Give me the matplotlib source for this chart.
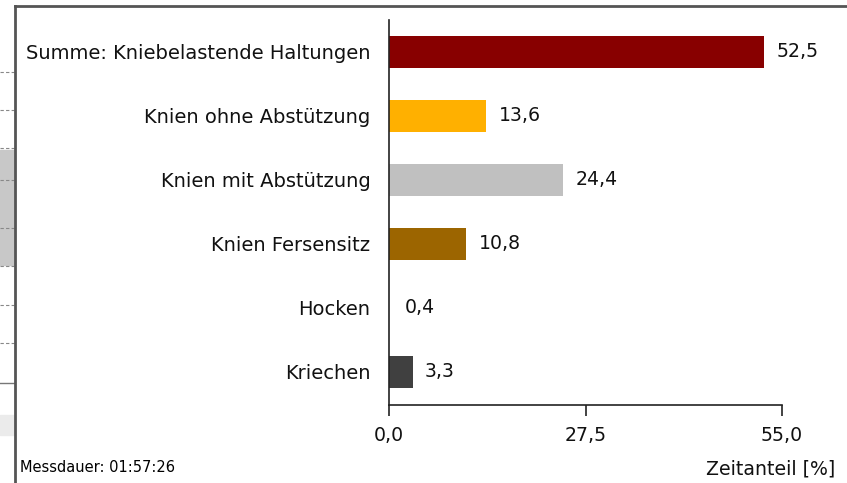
import matplotlib.pyplot as plt
from matplotlib.lines import Line2D
from matplotlib.patches import Rectangle

plt.rcParams['font.family'] = ['DejaVu Sans']

categories = ["Summe: Kniebelastende Haltungen", "Knien ohne Abstützung",
              "Knien mit Abstützung", "Knien Fersensitz", "Hocken", "Kriechen"]
values = [52.5, 13.6, 24.4, 10.8, 0.4, 3.3]
colors = ["#880000", "#FFB000", "#C0C0C0", "#9C6500", "#FFFFFF", "#404040"]
xticks = [0.0, 27.5, 55.0]
xtick_labels = ["0,0", "27,5", "55,0"]

fig = plt.figure(figsize=(8.47, 4.83), dpi=100)
W, H = 847, 483
fs = 13.6

# background window fragment on the left
fig.patches.append(Rectangle((0, 1 - 265 / H), 15 / W, 115 / H, transform=fig.transFigure,
                             color="#C8C8C8", zorder=-2))
fig.patches.append(Rectangle((0, 1 - 435 / H), 15 / W, 20 / H, transform=fig.transFigure,
                             color="#EBEBEB", zorder=-2))
for yp in [72, 110, 148, 180, 228, 266, 305, 343]:
    fig.lines.append(Line2D([0, 14 / W], [1 - yp / H] * 2, transform=fig.transFigure,
                            color="#888888", lw=0.8, ls=(0, (3, 2)), zorder=-1))
fig.lines.append(Line2D([0, 14 / W], [1 - 383 / H] * 2, transform=fig.transFigure,
                        color="#777777", lw=1, zorder=-1))

# panel frame
fig.lines.append(Line2D([15 / W, 1], [1 - 6 / H] * 2, transform=fig.transFigure,
                        color="#555555", lw=2, zorder=-1))
fig.lines.append(Line2D([15 / W] * 2, [0, 1 - 6 / H], transform=fig.transFigure,
                        color="#555555", lw=2, zorder=-1))

ax = fig.add_axes([389 / W, 1 - 405 / H, 393 / W, 385 / H])
y = range(len(categories))
ax.barh(y, values, height=0.5, color=colors, zorder=2)
for i, v in enumerate(values):
    ax.annotate(f"{v:.1f}".replace(".", ","), (v, i), xytext=(9, 0),
                textcoords="offset points", va="center", ha="left", fontsize=fs,
                color="#111111")

ax.set_ylim(5.52, -0.5)
ax.set_xlim(0, 55)
ax.set_yticks(list(y))
ax.set_yticklabels(categories, fontsize=14, color="#111111")
ax.tick_params(axis="y", length=0, pad=13.5)
ax.set_xticks(xticks)
ax.set_xticklabels(xtick_labels, fontsize=fs, color="#111111")
ax.tick_params(axis="x", direction="out", length=8, width=1.2, pad=7, color="#222222")
ax.spines["top"].set_visible(False)
ax.spines["right"].set_visible(False)
ax.spines["left"].set_color("#222222")
ax.spines["bottom"].set_color("#222222")
ax.spines["left"].set_linewidth(1.2)
ax.spines["bottom"].set_linewidth(1.2)
ax.patch.set_alpha(0)

fig.text(835 / W, 1 - 469 / H, "Zeitanteil [%]", ha="right", va="center", fontsize=fs,
         color="#111111")
fig.text(20 / W, 1 - 468 / H, "Messdauer: 01:57:26", ha="left", va="center", fontsize=10.5)

fig.savefig("out.png", dpi=100)
